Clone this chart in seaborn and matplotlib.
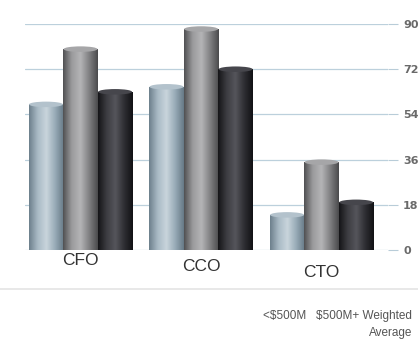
import numpy as np
import pandas as pd
import matplotlib
matplotlib.use("Agg")
import matplotlib.pyplot as plt
from matplotlib.colors import LinearSegmentedColormap
from matplotlib.patches import Ellipse
from matplotlib.transforms import ScaledTranslation
import seaborn as sns

# Chart data
roles = ["CFO", "CCO", "CTO"]
segments = ["<$500M", "$500M+", "Weighted Average"]
under_500m = [58, 65, 14]
over_500m = [80, 88, 35]
weighted_avg = [63, 72, 19]
y_ticks = [0, 18, 36, 54, 72, 90]

df = pd.DataFrame({
    "role": roles * 3,
    "segment": [segments[0]] * 3 + [segments[1]] * 3 + [segments[2]] * 3,
    "value": under_500m + over_500m + weighted_avg,
})

sns.set_theme(style="white")
plt.rcParams["font.family"] = ["Liberation Sans", "DejaVu Sans"]

fig = plt.figure(figsize=(4.18, 3.43), dpi=100)
ax = fig.add_axes([0.06, 0.271, 0.868, 0.659])

base_colors = ["#8fa2af", "#7e7e80", "#2b2b30"]
sns.barplot(data=df, x="role", y="value", hue="segment", order=roles,
            hue_order=segments, palette=base_colors, width=0.86,
            saturation=1, ax=ax, legend=False, zorder=3)

# cylinder shading: horizontal gradients clipped to each bar
shades = [
    ["#6c7f8c", "#a9bac5", "#c9d5dc", "#98abb7", "#667986"],
    ["#505052", "#9a9a9c", "#b4b4b6", "#808082", "#4a4a4c"],
    ["#141417", "#3d3d42", "#55555b", "#2e2e33", "#111114"],
]
cap_colors = ["#b3c2cc", "#a6a6a8", "#46464c"]
grad = np.linspace(0, 1, 256).reshape(1, -1)
patches = list(ax.patches)
for i, p in enumerate(patches):
    h = i // len(roles)
    cmap = LinearSegmentedColormap.from_list(f"cyl{i}", shades[h])
    x0, w, top = p.get_x(), p.get_width(), p.get_height()
    p.set_edgecolor("none")
    im = ax.imshow(grad, cmap=cmap, aspect="auto",
                   extent=[x0, x0 + w, 0, top], zorder=3.5)
    im.set_clip_path(p)
    ax.add_patch(Ellipse((x0 + w / 2, top), w * 0.98, 2.2,
                         facecolor=cap_colors[h], edgecolor="none", zorder=4))

ax.set_xlim(-0.46, 2.55)
ax.set_ylim(0, 90)
ax.set_yticks(y_ticks)
ax.yaxis.tick_right()
ax.tick_params(axis="y", which="both", right=True, length=7, width=0.8,
               color="#b8ccd8", labelsize=8, labelcolor="#6a6a6a", pad=4)
for lbl in ax.get_yticklabels():
    lbl.set_fontfamily(["Liberation Sans Narrow", "DejaVu Sans"])
    lbl.set_fontweight("bold")
ax.grid(axis="y", color="#bcd0dc", linewidth=0.9, zorder=0)
ax.set_axisbelow(True)
for s in ax.spines.values():
    s.set_visible(False)
ax.set_xlabel("")
ax.set_ylabel("")
ax.set_xticks(range(len(roles)))
ax.set_xticklabels(roles, fontsize=12.5, color="#333333")
ax.tick_params(axis="x", length=0, pad=2)
# the baseline recedes to the right, so later labels sit a little lower
for k, lbl in enumerate(ax.get_xticklabels()):
    lbl.set_transform(lbl.get_transform() +
                      ScaledTranslation(0, -0.06 * k, fig.dpi_scale_trans))

# divider and segment key text
fig.add_artist(plt.Line2D([0, 1], [1 - 289 / 343] * 2, color="#e4e4e4",
                          linewidth=1.2))
key_line = segments[0].replace("$", r"\$") + "   " + \
    segments[1].replace("$", r"\$") + " Weighted"
fig.text(412 / 418, 1 - 316 / 343, key_line,
         ha="right", va="center", fontsize=8.5, color="#555555")
fig.text(412 / 418, 1 - 333 / 343, "Average",
         ha="right", va="center", fontsize=8.5, color="#555555")

fig.savefig("out.png", dpi=100)
